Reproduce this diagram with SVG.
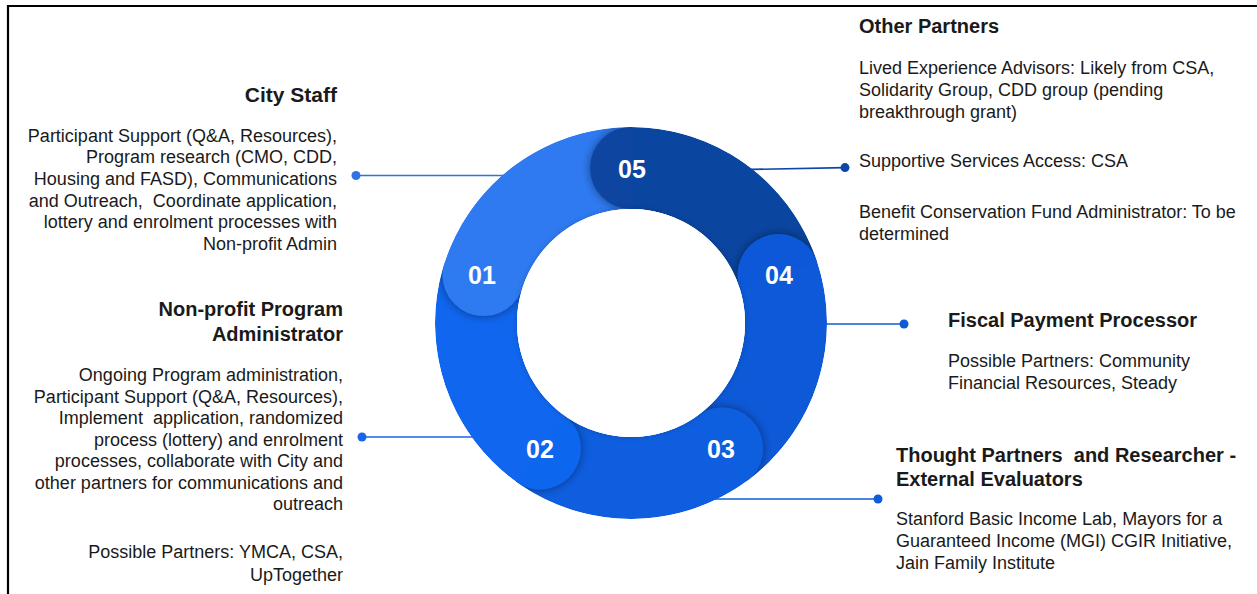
<svg xmlns="http://www.w3.org/2000/svg" width="1257" height="594" viewBox="0 0 1257 594">
<style>
text{font-family:"Liberation Sans",Arial,sans-serif;fill:#1a1a1a}
.t{font-size:20px;font-weight:bold}
.b{font-size:18px}
.r{text-anchor:end}
.n{font-size:25px;font-weight:bold;fill:#fff;text-anchor:middle}
.ln{stroke-width:1.6;fill:none}
</style>
<defs>
<filter id="sh" x="-50%" y="-50%" width="200%" height="200%">
<feDropShadow dx="0" dy="0" stdDeviation="5" flood-color="#000" flood-opacity="0.45"/>
</filter>
<filter id="sh2" x="-20%" y="-20%" width="140%" height="140%">
<feDropShadow dx="0" dy="0" stdDeviation="3" flood-color="#000" flood-opacity="0.18"/>
</filter>
<clipPath id="ring"><path clip-rule="evenodd" d="M631,127A196,196 0 1 1 630.99,127ZM631,209A114,114 0 1 0 631.01,209Z"/></clipPath>
<clipPath id="w270"><polygon points="631,323 631,23 528.4,41.1 438.2,93.2"/></clipPath>
<clipPath id="w342"><polygon points="631,323 916.3,230.3 867.4,138.3 790,68.6"/></clipPath>
<clipPath id="w54"><polygon points="631,323 807.3,565.7 879.7,490.8 922.1,395.6"/></clipPath>
<clipPath id="w126"><polygon points="631,323 454.7,565.7 548.3,611.4 651.9,622.3"/></clipPath>
<clipPath id="w198"><polygon points="631,323 345.7,230.3 331.2,333.5 352.8,435.4"/></clipPath>
</defs>

<path d="M8,594V6H1257" fill="none" stroke="#000" stroke-width="2.2"/>

<g id="connectors">
<line class="ln" x1="356" y1="175.5" x2="515" y2="175.5" stroke="#2F72E6"/>
<circle cx="356" cy="175.5" r="4.5" fill="#2F72E6"/>
<line class="ln" x1="362" y1="437" x2="485" y2="437" stroke="#1A66E8"/>
<circle cx="362" cy="437" r="4.5" fill="#1A66E8"/>
<line class="ln" x1="740" y1="169.6" x2="845" y2="167.6" stroke="#0B47A8"/>
<circle cx="845" cy="167.6" r="4.5" fill="#0B47A8"/>
<line class="ln" x1="815" y1="324" x2="904" y2="324" stroke="#0F5BD9"/>
<circle cx="904" cy="324" r="4.5" fill="#0F5BD9"/>
<line class="ln" x1="705" y1="499" x2="878" y2="499" stroke="#0F5BD9"/>
<circle cx="878" cy="499" r="4.5" fill="#0F5BD9"/>
</g>

<g id="ring-base" clip-path="url(#ring)">
<g transform="rotate(-0.7 631 323)">
<path fill="#2F7AF1" d="M444.59,262.43A196,196 0 0 1 631,127L631,209A114,114 0 0 0 522.58,287.77Z"/>
<path fill="#0A45A0" d="M631,127A196,196 0 0 1 817.41,262.43L739.42,287.77A114,114 0 0 0 631,209Z"/>
<path fill="#0D59D8" d="M817.41,262.43A196,196 0 0 1 746.21,481.57L698.01,415.23A114,114 0 0 0 739.42,287.77Z"/>
<path fill="#0E5EDF" d="M746.21,481.57A196,196 0 0 1 515.79,481.57L563.99,415.23A114,114 0 0 0 698.01,415.23Z"/>
<path fill="#1066EE" d="M515.79,481.57A196,196 0 0 1 444.59,262.43L522.58,287.77A114,114 0 0 0 563.99,415.23Z"/>
</g>
<g clip-path="url(#w270)"><circle filter="url(#sh)" fill="#0A45A0" cx="631" cy="168" r="41"/></g>
<g clip-path="url(#w342)"><circle filter="url(#sh)" fill="#0D59D8" cx="778.41" cy="275.1" r="41"/></g>
<g clip-path="url(#w54)"><circle filter="url(#sh)" fill="#0E5EDF" cx="722.11" cy="448.4" r="41"/></g>
<g clip-path="url(#w126)"><circle filter="url(#sh)" fill="#1066EE" cx="539.89" cy="448.4" r="41"/></g>
<g clip-path="url(#w198)"><circle filter="url(#sh)" fill="#2F7AF1" cx="483.59" cy="275.1" r="41"/></g>
</g>
<circle cx="631" cy="323" r="114" fill="#fff" filter="url(#sh2)"/>

<g id="n01"><text class="n" x="482" y="284">01</text></g>
<g id="n02"><text class="n" x="540" y="458">02</text></g>
<g id="n03"><text class="n" x="721" y="458">03</text></g>
<g id="n04"><text class="n" x="779" y="284">04</text></g>
<g id="n05"><text class="n" x="632" y="178">05</text></g>

<g id="city-staff">
<text class="t r" x="337" y="102" style="font-size:21px">City Staff</text>
<text class="b r" x="337" y="141.5">Participant Support (Q&amp;A, Resources),</text>
<text class="b r" x="337" y="163">Program research (CMO, CDD,</text>
<text class="b r" x="337" y="185">Housing and FASD), Communications</text>
<text class="b r" x="337" y="206.5" xml:space="preserve">and Outreach,  Coordinate application,</text>
<text class="b r" x="337" y="228">lottery and enrolment processes with</text>
<text class="b r" x="337" y="250">Non-profit Admin</text>
</g>

<g id="non-profit">
<text class="t r" x="343" y="316">Non-profit Program</text>
<text class="t r" x="343" y="341">Administrator</text>
<text class="b r" x="343" y="381">Ongoing Program administration,</text>
<text class="b r" x="343" y="402.5">Participant Support (Q&amp;A, Resources),</text>
<text class="b r" x="343" y="424" xml:space="preserve">Implement  application, randomized</text>
<text class="b r" x="343" y="445.5">process (lottery) and enrolment</text>
<text class="b r" x="343" y="467">processes, collaborate with City and</text>
<text class="b r" x="343" y="488.5">other partners for communications and</text>
<text class="b r" x="343" y="510">outreach</text>
<text class="b r" x="343" y="558">Possible Partners: YMCA, CSA,</text>
<text class="b r" x="343" y="581">UpTogether</text>
</g>

<g id="other-partners">
<text class="t" x="859" y="33">Other Partners</text>
<text class="b" x="859" y="74">Lived Experience Advisors: Likely from CSA,</text>
<text class="b" x="859" y="96">Solidarity Group, CDD group (pending</text>
<text class="b" x="859" y="118">breakthrough grant)</text>
<text class="b" x="859" y="167">Supportive Services Access: CSA</text>
<text class="b" x="859" y="218">Benefit Conservation Fund Administrator: To be</text>
<text class="b" x="859" y="240">determined</text>
</g>

<g id="fiscal">
<text class="t" x="948" y="327">Fiscal Payment Processor</text>
<text class="b" x="948" y="367">Possible Partners: Community</text>
<text class="b" x="948" y="389">Financial Resources, Steady</text>
</g>

<g id="thought-partners">
<text class="t" x="896" y="462" xml:space="preserve">Thought Partners  and Researcher -</text>
<text class="t" x="896" y="486">External Evaluators</text>
<text class="b" x="896" y="525">Stanford Basic Income Lab, Mayors for a</text>
<text class="b" x="896" y="547">Guaranteed Income (MGI) CGIR Initiative,</text>
<text class="b" x="896" y="569">Jain Family Institute</text>
</g>
</svg>
